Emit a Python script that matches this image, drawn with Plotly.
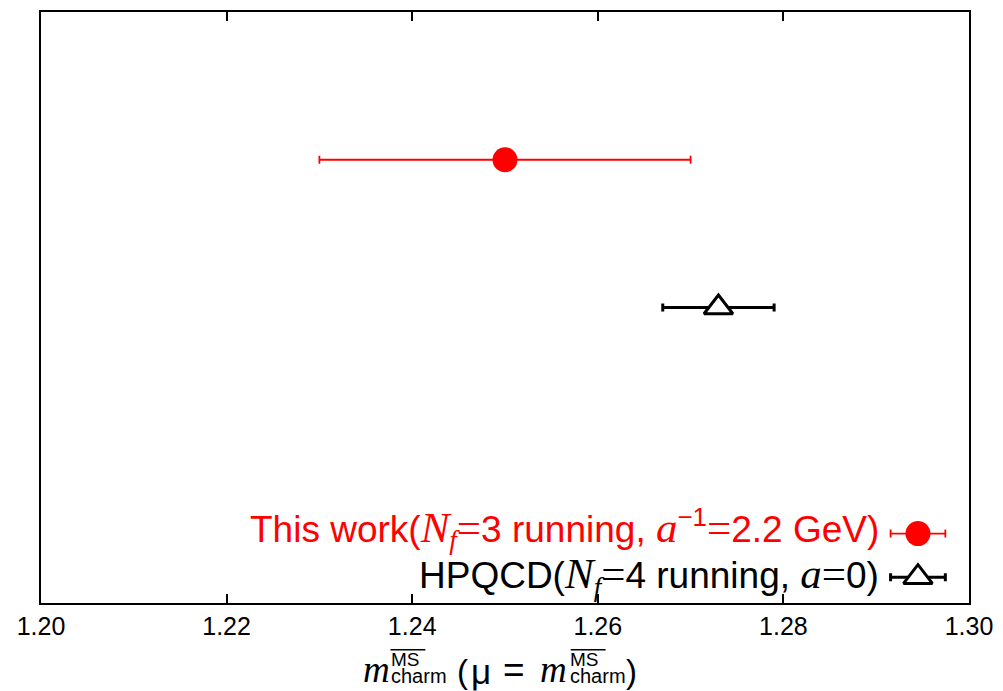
import plotly.graph_objects as go

# ---- data ----
series_names = ["This work", "HPQCD"]
mass_values = [1.250, 1.273]
mass_errors = [0.020, 0.006]
row_positions = [3, 2]
series_colors = ["red", "black"]
x_tick_values = [1.20, 1.22, 1.24, 1.26, 1.28, 1.30]
x_tick_labels = ["1.20", "1.22", "1.24", "1.26", "1.28", "1.30"]
legend_rows = [0.47, 0.175]
legend_x = 1.2945
legend_err = 0.00295

SANS = "Liberation Sans, Arial, sans-serif"
SERIF = "Liberation Serif, Times New Roman, serif"

W, H = 1003, 691
L, R, T, B = 41, 30, 10, 88
PW, PH = W - L - R, H - T - B
XMIN, XMAX = 1.20, 1.30


def px_to_x(px):
    return XMIN + (px - L) / PW * (XMAX - XMIN)


def py_to_paper(py):
    return (T + PH - py) / PH


def it(s, size=43):
    return f'<span style="font-family:{SERIF};font-size:{size}px"><i>{s}</i></span>'


def eq(size=43):
    return f'<span style="font-family:{SERIF};font-size:{size}px">=</span>'


legend_texts = [
    f"This work({it('N')}<sub>{it('f', 27)}</sub>{eq()}3 running, {it('a')}<sup>−1</sup>{eq()}2.2 GeV)",
    f"HPQCD({it('N')}<sub>{it('f', 27)}</sub>{eq()}4 running, {it('a')}{eq()}0)",
]

fig = go.Figure()

# red point
fig.add_trace(go.Scatter(
    x=[mass_values[0]], y=[row_positions[0]], mode="markers",
    marker=dict(symbol="circle", size=25, color=series_colors[0]),
    error_x=dict(type="data", array=[mass_errors[0]], color=series_colors[0], thickness=1.8, width=4),
    showlegend=False))
# black point
fig.add_trace(go.Scatter(
    x=[mass_values[1]], y=[row_positions[1]], mode="markers",
    marker=dict(symbol="triangle-up", size=25, color="white", line=dict(color="black", width=3)),
    error_x=dict(type="data", array=[mass_errors[1]], color=series_colors[1], thickness=3, width=4),
    showlegend=False))

# legend keys (drawn manually: text left, symbol right)
fig.add_trace(go.Scatter(
    x=[legend_x], y=[legend_rows[0]], mode="markers",
    marker=dict(symbol="circle", size=25, color=series_colors[0]),
    error_x=dict(type="data", array=[legend_err], color=series_colors[0], thickness=1.8, width=4),
    showlegend=False, cliponaxis=False))
fig.add_trace(go.Scatter(
    x=[legend_x], y=[legend_rows[1]], mode="markers",
    marker=dict(symbol="triangle-up", size=25, color="white", line=dict(color="black", width=3)),
    error_x=dict(type="data", array=[legend_err], color=series_colors[1], thickness=3, width=4),
    showlegend=False, cliponaxis=False))

for txt, yrow, col, ys in zip(legend_texts, legend_rows, series_colors, [5, 1]):
    fig.add_annotation(x=px_to_x(885), y=yrow, xref="x", yref="y", text=txt,
                       showarrow=False, xanchor="right", yanchor="middle", yshift=ys,
                       font=dict(family=SANS, size=37, color=col))

# axis title built from pieces
stack = '<span style="font-size:19px">MS</span><br><span style="font-size:20px">charm</span>'
title_pieces = [
    # (text, left px, center py, family, size)
    ("<i>m</i>", 362, 670, SERIF, 37),
    (stack, 390, 668, SANS, 13),
    ("(", 457, 672, SANS, 33),
    ("μ", 471, 672, SANS, 35),
    ("=", 503, 670, SANS, 37),
    ("<i>m</i>", 540, 670, SERIF, 37),
    (stack, 570, 668, SANS, 13),
    (")", 627, 672, SANS, 33),
]
for txt, lx, cy, fam, sz in title_pieces:
    fig.add_annotation(x=px_to_x(lx), y=py_to_paper(cy), xref="x", yref="paper",
                       text=txt, showarrow=False, xanchor="left", yanchor="middle", align="left",
                       font=dict(family=fam, size=sz, color="black"))
for x0, x1 in [(392, 427), (573, 608)]:
    fig.add_shape(type="line", xref="x", yref="paper", x0=px_to_x(x0), x1=px_to_x(x1),
                  y0=py_to_paper(650), y1=py_to_paper(650), line=dict(color="black", width=1.5))

fig.update_layout(
    width=W, height=H,
    margin=dict(l=L, r=R, t=T, b=B),
    plot_bgcolor="white", paper_bgcolor="white",
    font=dict(family=SANS, color="black"),
    xaxis=dict(range=[XMIN, XMAX], tickvals=x_tick_values, ticktext=x_tick_labels,
               ticks="inside", ticklen=9, tickwidth=2, tickcolor="black",
               showline=True, linewidth=2, linecolor="black", mirror="ticks",
               showgrid=False, zeroline=False, tickfont=dict(family=SANS, size=25, color="black")),
    yaxis=dict(range=[0, 4], showline=True, linewidth=2, linecolor="black", mirror=True,
               ticks="", showticklabels=False, showgrid=False, zeroline=False),
)

fig.write_html("out.html")
